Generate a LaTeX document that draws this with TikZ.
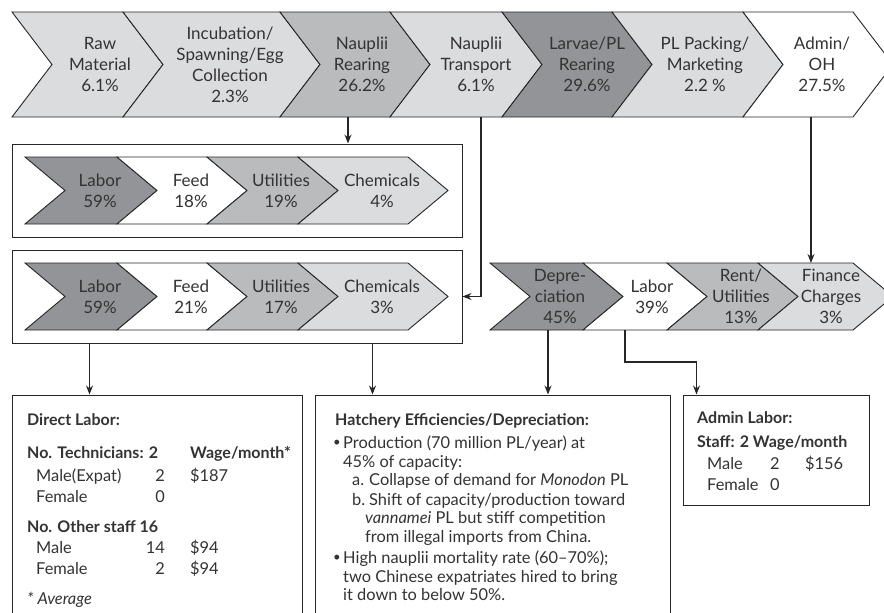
\documentclass[tikz,border=0pt]{standalone}
\usepackage{fontspec}
\setmainfont{Lato}
\usetikzlibrary{arrows.meta}

\definecolor{cLight}{HTML}{DBDCDD}
\definecolor{cMid}{HTML}{BABBBD}
\definecolor{cDark}{HTML}{939497}
\definecolor{ink}{HTML}{333333}
\definecolor{rule}{HTML}{262626}

\tikzset{
  chevline/.style={draw=rule, line width=0.9pt, line join=miter},
  chevtext/.style={align=center, text=ink, inner sep=0pt,
    font=\fontsize{17}{21}\selectfont},
  frame/.style={draw=rule, line width=1pt, fill=white, inner sep=0pt},
  arr/.style={draw=rule, line width=1.3pt,
    -{Stealth[length=9pt,width=7pt]}},
  txt/.style={anchor=base west, inner sep=0pt, text=ink,
    font=\fontsize{16.4}{19}\selectfont},
  txtr/.style={txt, anchor=base east},
  hd/.style={txt, font=\fontsize{16}{19}\selectfont\bfseries},
}

% chevron: name, left x, right x, top y, bottom y, fill, text x, text
\newcommand\chevron[8]{%
  \filldraw[chevline, fill=#6] (#2,#4) -- (#3,#4) -- ({#3+40},{(#4+#5)/2})
    -- (#3,#5) -- (#2,#5) -- ({#2+40},{(#4+#5)/2}) -- cycle;
  \node[chevtext] (#1) at (#7,{(#4+#5)/2}) {#8};
  \coordinate (#1-n) at (#7,#4);
  \coordinate (#1-s) at (#7,#5);
}
\newcommand\smallbullet{\raisebox{0.15ex}{\scalebox{0.8}{•}}}

\begin{document}
\begin{tikzpicture}[x=1pt, y=-1pt]
\useasboundingbox (0,0) rectangle (884,613);

% frames
\node[frame, minimum width=450pt, minimum height=93pt] (box1) at (237,190.5) {};
\node[frame, minimum width=450pt, minimum height=93pt] (box2) at (237,296.5) {};
\node[frame, minimum width=290pt, minimum height=235pt] (dl) at (157,512.5) {};
\node[frame, minimum width=355pt, minimum height=235pt] (he) at (492.5,512.5) {};
\node[frame, minimum width=186pt, minimum height=110pt] (al) at (776,450) {};

% value chain
\chevron{raw}{12}{123}{12}{117}{cLight}{100}{Raw\\Material\\6.1\%}
\chevron{inc}{123}{280}{12}{117}{cLight}{230}{Incubation/\\Spawning/Egg\\Collection\\2.3\%}
\chevron{nr}{280}{390}{12}{117}{cMid}{362}{Nauplii\\Rearing\\26.2\%}
\chevron{nt}{390}{502}{12}{117}{cLight}{476}{Nauplii\\Transport\\6.1\%}
\chevron{lpl}{502}{612}{12}{117}{cDark}{587}{Larvae/PL\\Rearing\\29.6\%}
\chevron{plp}{612}{743}{12}{117}{cLight}{705}{PL Packing/\\Marketing\\2.2 \%}
\chevron{adm}{743}{853}{12}{117}{white}{822}{Admin/\\OH\\27.5\%}

% nauplii rearing costs
\chevron{laba}{25}{117}{157}{224}{cDark}{100}{Labor\\59\%}
\chevron{feeda}{117}{207}{157}{224}{white}{191}{Feed\\18\%}
\chevron{utila}{207}{298}{157}{224}{cMid}{281}{Utilities\\19\%}
\chevron{chema}{298}{408}{157}{224}{cLight}{382}{Chemicals\\4\%}

% larvae rearing costs
\chevron{labb}{25}{117}{263}{330}{cDark}{100}{Labor\\59\%}
\chevron{feedb}{117}{207}{263}{330}{white}{191}{Feed\\21\%}
\chevron{utilb}{207}{298}{263}{330}{cMid}{281}{Utilities\\17\%}
\chevron{chemb}{298}{408}{263}{330}{cLight}{382}{Chemicals\\3\%}

% overhead costs
\chevron{dep}{490}{583}{263}{330}{cDark}{560}{Depre-\\ciation\\45\%}
\chevron{labc}{583}{667}{263}{330}{white}{652}{Labor\\39\%}
\chevron{rent}{667}{758}{263}{330}{cMid}{741}{Rent/\\Utilities\\13\%}
\chevron{fin}{758}{853}{263}{330}{cLight}{831}{Finance\\Charges\\3\%}

% connectors
\draw[arr] ([xshift=-14pt]nr-s) -- ([xshift=-14pt]nr-s |- box1.north);
\draw[arr] ([xshift=5pt]nt-s) |- (box2.east);
\draw[arr] ([xshift=-11pt]adm-s) -- ([xshift=-11pt]adm-s |- fin-n);
\draw[arr] ([xshift=78pt]box2.south west) -- ([xshift=78pt]box2.south west |- dl.north);
\draw[arr] ([xshift=361pt]box2.south west) -- ([xshift=361pt]box2.south west |- he.north);
\draw[arr] ([xshift=-12pt]dep-s) -- ([xshift=-12pt]dep-s |- he.north);
\draw[arr] ([xshift=-27pt]labc-s) -- ++(0,32) -| ([xshift=14pt]al.north west);

% direct labor
\node[hd] (dl1) at (27,425.5) {Direct Labor:};
\node[hd] (dl2) at (27,458.5) {No. Technicians: 2};
\node[hd] (dl3) at (190,458.5) {Wage/month*};
\node[txt] (dl4) at (36,481) {Male(Expat)};
\node[txtr] (dl5) at (165,481) {2};
\node[txt] (dl6) at (190,481) {\$187};
\node[txt] (dl7) at (36,502) {Female};
\node[txtr] (dl8) at (165,502) {0};
\node[hd] (dl9) at (27,532) {No. Other staff 16};
\node[txt] (dl10) at (36,553) {Male};
\node[txtr] (dl11) at (165,553) {14};
\node[txt] (dl12) at (190,553) {\$94};
\node[txt] (dl13) at (36,574) {Female};
\node[txtr] (dl14) at (165,574) {2};
\node[txt] (dl15) at (190,574) {\$94};
\node[txt] (dl16) at (27,604) {\itshape * Average};

% hatchery efficiencies
\node[hd] (he1) at (335,425) {Hatchery Efficiencies/Depreciation:};
\node[txt] (he2) at (333,448) {\smallbullet};
\node[txt] (he3) at (343,448) {Production (70 million PL/year) at};
\node[txt] (he4) at (343,467) {45\% of capacity:};
\node[txt] (he5) at (352,485) {a.};
\node[txt] (he6) at (369,485) {Collapse of demand for \textit{Monodon} PL};
\node[txt] (he7) at (352,505) {b.};
\node[txt] (he8) at (369,505) {Shift of capacity/production toward};
\node[txt] (he9) at (365,523) {\textit{vannamei} PL but stiff competition};
\node[txt] (he10) at (365,542) {from illegal imports from China.};
\node[txt] (he11) at (333,563) {\smallbullet};
\node[txt] (he12) at (343,563) {High nauplii mortality rate (60–70\%);};
\node[txt] (he13) at (343,582) {two Chinese expatriates hired to bring};
\node[txt] (he14) at (343,600) {it down to below 50\%.};

% admin labor
\node[hd] (al1) at (697,423) {Admin Labor:};
\node[hd] (al2) at (697,447.5) {Staff: 2 Wage/month};
\node[txt] (al3) at (707,469) {Male};
\node[txt] (al4) at (770,469) {2};
\node[txt] (al5) at (805,469) {\$156};
\node[txt] (al6) at (707,490) {Female};
\node[txt] (al7) at (770,490) {0};
\end{tikzpicture}
\end{document}
